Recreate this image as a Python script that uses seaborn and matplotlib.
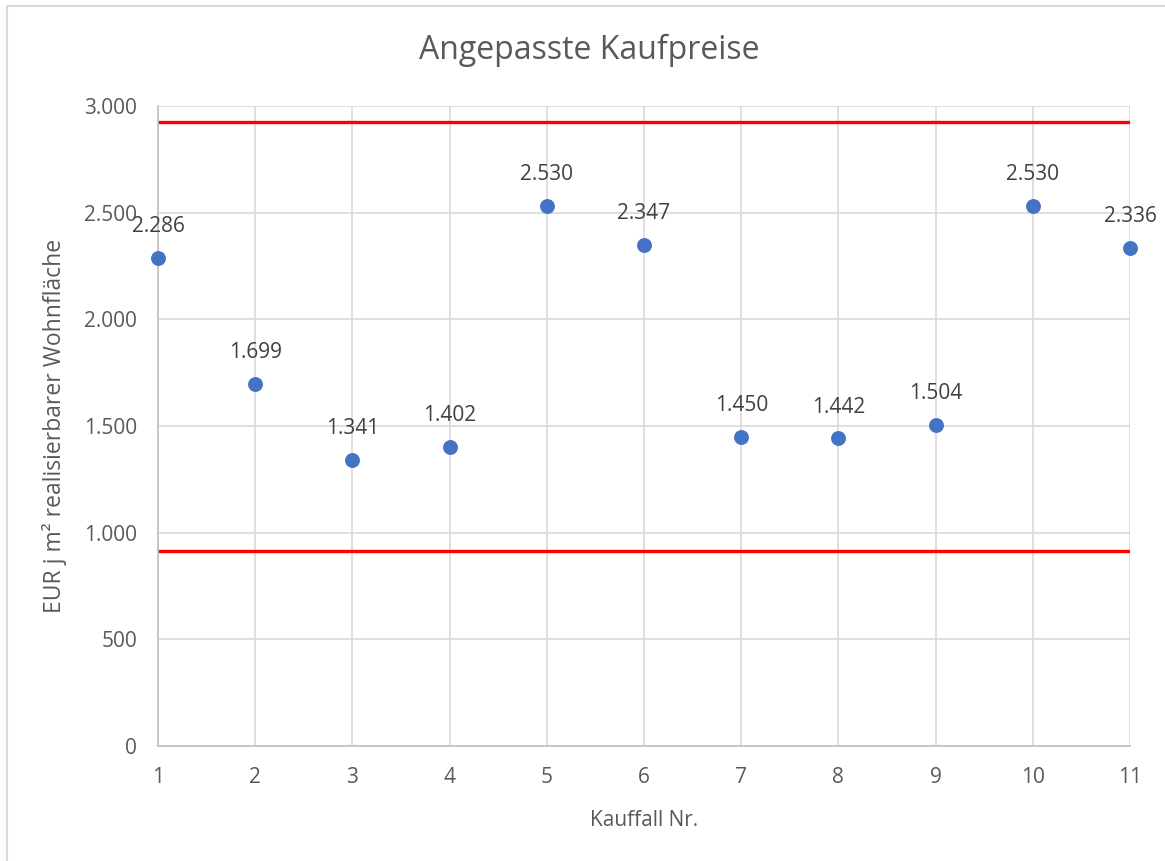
import numpy as np
import pandas as pd
import matplotlib.pyplot as plt
import matplotlib.ticker as mticker
from matplotlib.patches import Rectangle
import seaborn as sns

# Data
kauffall = [1, 2, 3, 4, 5, 6, 7, 8, 9, 10, 11]
preis = [2286, 1699, 1341, 1402, 2530, 2347, 1450, 1442, 1504, 2530, 2336]
obere_grenze = 2925
untere_grenze = 915

df = pd.DataFrame({'kauffall': kauffall, 'preis': preis})

sns.set_style('white')
plt.rcParams['font.family'] = ['Open Sans', 'DejaVu Sans']

fig = plt.figure(figsize=(11.65, 8.61), dpi=100)
ax = fig.add_axes([158 / 1165, 1 - 746 / 861, (1130 - 158) / 1165, (746 - 106) / 861])

# light frame around the chart (only top/left visible in the reference)
fig.patches.append(Rectangle((7 / 1165, -0.05), 1.2, 1 - 6 / 861 + 0.05,
                             transform=fig.transFigure, fill=False,
                             edgecolor='#D9D9D9', linewidth=1.5, zorder=0))

ax.grid(True, color='#D9D9D9', linewidth=1.2)
ax.set_axisbelow(True)

ax.axhline(obere_grenze, color='#FF0000', linewidth=2.4, zorder=2)
ax.axhline(untere_grenze, color='#FF0000', linewidth=2.4, zorder=2)

sns.scatterplot(data=df, x='kauffall', y='preis', ax=ax, s=115,
                color='#4472C4', edgecolor='#4472C4', linewidth=0, zorder=3,
                clip_on=False)

for xv, yv in zip(kauffall, preis):
    ax.annotate(f'{yv:,}'.replace(',', '.'), (xv, yv), xytext=(0, 15),
                textcoords='offset points', ha='center', va='bottom',
                fontsize=15, color='#404040')

ax.set_xlim(1, 11)
ax.set_ylim(0, 3000)
ax.set_xticks(kauffall)
ax.set_yticks(np.arange(0, 3001, 500))
ax.yaxis.set_major_formatter(mticker.FuncFormatter(lambda v, p: f'{int(v):,}'.replace(',', '.')))
ax.tick_params(axis='both', length=0, labelsize=15, labelcolor='#595959', pad=15)

for side in ['top', 'right']:
    ax.spines[side].set_visible(False)
for side in ['left', 'bottom']:
    ax.spines[side].set_color('#BFBFBF')
    ax.spines[side].set_linewidth(1.2)

ax.set_xlabel('Kauffall Nr.', fontsize=15, color='#595959', labelpad=16)
ax.set_ylabel('EUR j m² realisierbarer Wohnfläche', fontsize=16.5, color='#595959', labelpad=12)
fig.text(589 / 1165, 1 - 50 / 861, 'Angepasste Kaufpreise', ha='center', va='center',
         fontsize=23, color='#595959')

plt.savefig('out.png', dpi=100)
